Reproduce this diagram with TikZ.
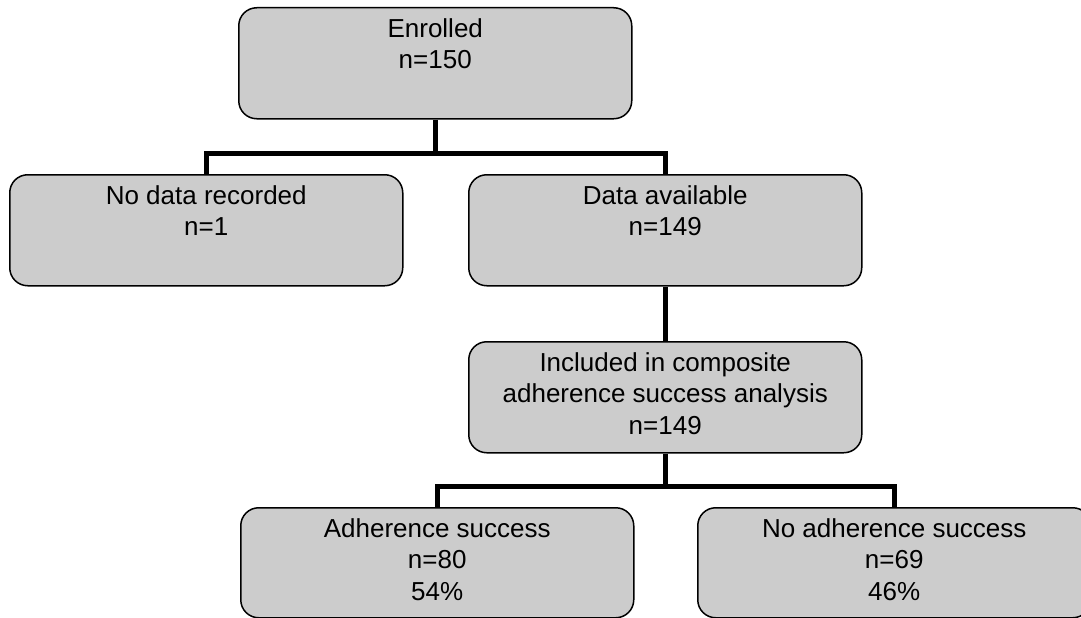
\documentclass[tikz,border=0pt]{standalone}
\usepackage{fontspec}
\setmainfont{Liberation Sans}
\usetikzlibrary{positioning}
\definecolor{boxgray}{HTML}{CCCCCC}
\tikzset{
  font={\fontsize{26pt}{31.5pt}\selectfont}}

\begin{document}
\begin{tikzpicture}[x=1pt,y=-1pt]
\tikzstyle{every node}+=[inner sep=0pt]
\tikzstyle{stage}=[draw=black, fill=boxgray, line width=1.5pt, rounded corners=18pt, minimum width=393pt, minimum height=111pt, anchor=north west]
\tikzstyle{stagetext}=[align=center, anchor=north]
\tikzstyle{link}=[black, line width=5pt]
\useasboundingbox (0,0) rectangle (1081,618);
\node [stage] (enrolled) at (238,7) {};
\node [stage] (nodata) at (9,174) {};
\node [stage] (available) at (468,174) {};
\node [stage] (included) at (468,341) {};
\node [stage, minimum height=110pt] (success) at (240,507) {};
\node [stage, minimum height=110pt] (failure) at (697,507) {};
\node [stagetext] (enrolledtext) at ([yshift=-11pt]enrolled.north) {Enrolled\\n=150};
\node [stagetext] (nodatatext) at ([yshift=-11pt]nodata.north) {No data recorded\\n=1};
\node [stagetext] (availabletext) at ([yshift=-11pt]available.north) {Data available\\n=149};
\node [stagetext] (includedtext) at ([yshift=-11pt]included.north) {Included in composite\\adherence success analysis\\n=149};
\node [stagetext] (successtext) at ([yshift=-11pt]success.north) {Adherence success\\n=80\\54\%};
\node [stagetext] (failuretext) at ([yshift=-11pt]failure.north) {No adherence success\\n=69\\46\%};
% connectors
\coordinate (split1) at ([yshift=-34pt]enrolled.south);
\coordinate (split2) at ([yshift=-32.5pt]included.south);
\draw [link] (enrolled.south) -- (split1);
\draw [link] (nodata.north) |- (split1) -| (available.north);
\draw [link] (available.south) -- (included.north);
\draw [link] (included.south) -- (split2);
\draw [link] (success.north) |- (split2) -| (failure.north);
\end{tikzpicture}
\end{document}
